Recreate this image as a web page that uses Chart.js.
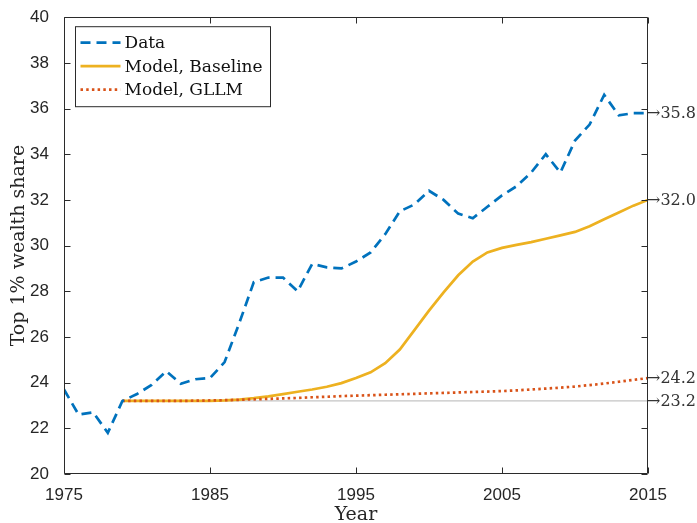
<!DOCTYPE html>
<html>
<head>
<meta charset="utf-8">
<script src="https://cdn.jsdelivr.net/npm/chart.js@4.4.1/dist/chart.umd.min.js"></script>
<style>
  html, body { margin: 0; padding: 0; background: #ffffff; }
  #wrap { width: 697px; height: 523px; }
</style>
</head>
<body>
<div id="wrap"><canvas id="chart" width="697" height="523"></canvas></div>
<script>
// Observed top 1% wealth share, 1975-2015
const dataYears = [1975, 1976, 1977, 1978, 1979, 1980, 1981, 1982, 1983, 1984,
                   1985, 1986, 1987, 1988, 1989, 1990, 1991, 1992, 1993, 1994,
                   1995, 1996, 1997, 1998, 1999, 2000, 2001, 2002, 2003, 2004,
                   2005, 2006, 2007, 2008, 2009, 2010, 2011, 2012, 2013, 2014, 2015];
const dataShare = [23.7, 22.6, 22.7, 21.8, 23.2, 23.5, 23.9, 24.5, 23.95, 24.15,
                   24.2, 24.9, 26.6, 28.4, 28.6, 28.6, 28.0, 29.2, 29.05, 29.0,
                   29.3, 29.7, 30.5, 31.5, 31.8, 32.4, 32.0, 31.4, 31.2, 31.7,
                   32.2, 32.6, 33.2, 34.0, 33.2, 34.6, 35.3, 36.6, 35.7, 35.8, 35.8];

// Model simulations, 1979-2015
const modelYears = [1979, 1980, 1981, 1982, 1983, 1984, 1985, 1986, 1987, 1988,
                    1989, 1990, 1991, 1992, 1993, 1994, 1995, 1996, 1997, 1998,
                    1999, 2000, 2001, 2002, 2003, 2004, 2005, 2006, 2007, 2008,
                    2009, 2010, 2011, 2012, 2013, 2014, 2015];
const baselineShare = [23.2, 23.2, 23.2, 23.2, 23.2, 23.2, 23.2, 23.22, 23.26, 23.32,
                       23.4, 23.5, 23.6, 23.7, 23.82, 23.98, 24.2, 24.45, 24.85, 25.45,
                       26.3, 27.15, 27.95, 28.7, 29.3, 29.7, 29.9, 30.03, 30.15, 30.3,
                       30.45, 30.6, 30.85, 31.15, 31.45, 31.75, 32.0];
const gllmShare = [23.2, 23.2, 23.2, 23.2, 23.2, 23.21, 23.22, 23.23, 23.25, 23.27,
                   23.29, 23.31, 23.33, 23.36, 23.38, 23.41, 23.43, 23.45, 23.47, 23.49,
                   23.51, 23.53, 23.55, 23.57, 23.59, 23.61, 23.63, 23.66, 23.7, 23.74,
                   23.78, 23.83, 23.89, 23.96, 24.04, 24.12, 24.2];

// Initial (1979) level, drawn as a flat reference
const referenceLevel = 23.2;

const xTickValues = [1975, 1985, 1995, 2005, 2015];
const yTickValues = [20, 22, 24, 26, 28, 30, 32, 34, 36, 38, 40];

const toPoints = (xs, ys) => xs.map((x, i) => ({ x: x, y: ys[i] }));

const SERIF = '"DejaVu Serif", "Liberation Serif", serif';
const SANS = '"Liberation Sans", Arial, sans-serif';
const AXIS_COLOR = '#2b2b2b';

// Inward tick marks and the full axes box
const boxPlugin = {
  id: 'axesBox',
  afterDatasetsDraw(chart) {
    const { ctx, chartArea: a, scales: { x, y } } = chart;
    ctx.save();
    ctx.strokeStyle = AXIS_COLOR;
    ctx.lineWidth = 1;
    const L = Math.round(a.left) + 0.5, R = Math.round(a.right) - 0.5;
    const T = Math.round(a.top) + 0.5, B = Math.round(a.bottom) - 0.5;
    ctx.beginPath();
    ctx.rect(L, T, R - L, B - T);
    const tl = 6;
    yTickValues.forEach(v => {
      const py = Math.round(y.getPixelForValue(v)) + 0.5;
      ctx.moveTo(L, py); ctx.lineTo(L + tl, py);
      ctx.moveTo(R, py); ctx.lineTo(R - tl, py);
    });
    xTickValues.forEach(v => {
      const px = Math.round(x.getPixelForValue(v)) + 0.5;
      ctx.moveTo(px, B); ctx.lineTo(px, B - tl);
      ctx.moveTo(px, T); ctx.lineTo(px, T + tl);
    });
    ctx.stroke();
    ctx.restore();
  }
};

// End-of-series value labels to the right of the axes
const endLabelPlugin = {
  id: 'endLabels',
  afterDraw(chart) {
    const { ctx, chartArea: a, scales: { y } } = chart;
    ctx.save();
    ctx.font = '16px ' + SERIF;
    ctx.fillStyle = '#333333';
    ctx.textAlign = 'left';
    ctx.textBaseline = 'middle';
    chart.data.datasets.forEach(ds => {
      const last = ds.data[ds.data.length - 1];
      ctx.fillText('\u2192' + last.y.toFixed(1), a.right - 1, y.getPixelForValue(last.y) + 1);
    });
    ctx.restore();
  }
};

// Boxed legend in the upper-left corner of the axes
const legendPlugin = {
  id: 'boxLegend',
  afterDraw(chart) {
    const { ctx, chartArea: a } = chart;
    const items = chart.data.datasets.filter(ds => !ds.hideInLegend);
    const bx = a.left + 11.5, by = a.top + 9.5, bw = 195, bh = 80;
    ctx.save();
    ctx.fillStyle = '#ffffff';
    ctx.fillRect(bx, by, bw, bh);
    ctx.strokeStyle = AXIS_COLOR;
    ctx.lineWidth = 1;
    ctx.strokeRect(bx, by, bw, bh);
    ctx.font = '17px ' + SERIF;
    ctx.textBaseline = 'middle';
    ctx.textAlign = 'left';
    items.forEach((ds, i) => {
      const ry = by + 16 + i * 23.5;
      ctx.beginPath();
      ctx.strokeStyle = ds.borderColor;
      ctx.lineWidth = ds.borderWidth;
      ctx.setLineDash(ds.borderDash || []);
      ctx.moveTo(bx + 5, ry);
      ctx.lineTo(bx + 45, ry);
      ctx.stroke();
      ctx.setLineDash([]);
      ctx.fillStyle = '#111111';
      ctx.fillText(ds.label, bx + 49, ry + 1);
    });
    ctx.restore();
  }
};

new Chart(document.getElementById('chart'), {
  type: 'line',
  data: {
    datasets: [
      {
        label: 'Data',
        data: toPoints(dataYears, dataShare),
        borderColor: '#0072BD',
        borderWidth: 2.7,
        borderDash: [10, 6],
        pointRadius: 0,
        tension: 0,
        order: 0
      },
      {
        label: 'Model, Baseline',
        data: toPoints(modelYears, baselineShare),
        borderColor: '#EDB120',
        borderWidth: 2.7,
        pointRadius: 0,
        tension: 0,
        order: 2
      },
      {
        label: 'Model, GLLM',
        data: toPoints(modelYears, gllmShare),
        borderColor: '#D95319',
        borderWidth: 2.7,
        borderDash: [2.5, 3.2],
        pointRadius: 0,
        tension: 0,
        order: 1
      },
      {
        label: 'Initial level',
        hideInLegend: true,
        data: [
          { x: modelYears[0], y: referenceLevel },
          { x: modelYears[modelYears.length - 1], y: referenceLevel }
        ],
        borderColor: '#c4c4c4',
        borderWidth: 1.2,
        pointRadius: 0,
        order: 3
      }
    ]
  },
  options: {
    responsive: false,
    animation: false,
    devicePixelRatio: 1,
    layout: { padding: { left: 0, right: 49, top: 14, bottom: 0 } },
    plugins: { legend: { display: false }, tooltip: { enabled: false } },
    scales: {
      x: {
        type: 'linear',
        min: 1975,
        max: 2015,
        grid: { display: false },
        border: { display: false },
        afterBuildTicks: s => { s.ticks = xTickValues.map(v => ({ value: v })); },
        afterFit: s => { s.height = 49; },
        ticks: {
          font: { family: SANS, size: 17 },
          color: '#262626',
          padding: 3,
          maxRotation: 0,
          callback: v => String(v)
        },
        title: {
          display: true,
          text: 'Year',
          font: { family: SERIF, size: 19, lineHeight: 1 },
          color: '#262626',
          padding: { top: 0, bottom: -2 }
        }
      },
      y: {
        type: 'linear',
        min: 20,
        max: 40,
        grid: { display: false },
        border: { display: false },
        afterBuildTicks: s => { s.ticks = yTickValues.map(v => ({ value: v })); },
        afterFit: s => { s.width = 64; },
        ticks: {
          font: { family: SANS, size: 17 },
          color: '#262626',
          padding: 7,
          callback: v => String(v)
        },
        title: {
          display: true,
          text: 'Top 1% wealth share',
          font: { family: SERIF, size: 19, lineHeight: 1.2 },
          color: '#262626',
          padding: { top: 8, bottom: 0 }
        }
      }
    }
  },
  plugins: [boxPlugin, endLabelPlugin, legendPlugin]
});
</script>
</body>
</html>
